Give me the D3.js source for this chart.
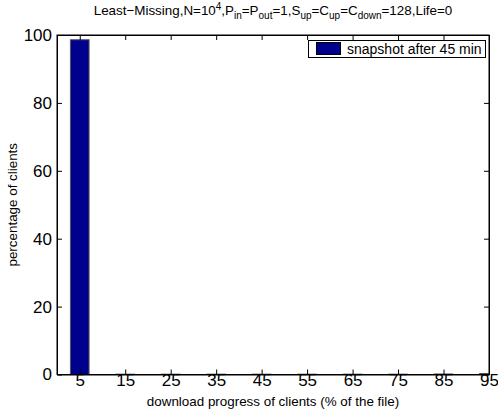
<!DOCTYPE html>
<html>
<head>
<meta charset="utf-8">
<script src="https://cdn.jsdelivr.net/npm/d3@7"></script>
<style>
  html, body { margin: 0; padding: 0; background: #fff; }
  svg { display: block; font-family: "Liberation Sans", Arial, Helvetica, sans-serif; }
</style>
</head>
<body>
<svg id="chart" width="498" height="420"></svg>
<script>
// Download-progress bins (% of the file) and share of clients in each bin
const bins = [5, 15, 25, 35, 45, 55, 65, 75, 85, 95];
const clientShare = [98.6, 0.1, 0.1, 0.1, 0.1, 0.1, 0.1, 0.1, 0.15, 0.3];
const yTicks = [0, 20, 40, 60, 80, 100];
const seriesName = "snapshot after 45 min";

const W = 498, H = 420;
const m = { left: 57, right: 9, top: 35, bottom: 45.5 };
const x0 = m.left, x1 = W - m.right, y0 = m.top, y1 = H - m.bottom;

const svg = d3.select("#chart");

const x = d3.scaleLinear().domain([0, 95]).range([x0, x1]);
const y = d3.scaleLinear().domain([0, 100]).range([y1, y0]);
const barHalf = 2.05;

// Clip bars to the axes box
svg.append("defs").append("clipPath").attr("id", "plotClip")
  .append("rect").attr("x", x0).attr("y", y0).attr("width", x1 - x0).attr("height", y1 - y0);

// Bars
svg.append("g").attr("clip-path", "url(#plotClip)")
  .selectAll("rect").data(bins).join("rect")
  .attr("x", (d) => x(d - barHalf))
  .attr("width", (d) => x(d + barHalf) - x(d - barHalf))
  .attr("y", (d, i) => y(clientShare[i]))
  .attr("height", (d, i) => y(0) - y(clientShare[i]))
  .attr("fill", "#00008f")
  .attr("stroke", "#555")
  .attr("stroke-width", 1);

// Axes (ticks point inward, mirrored on opposite sides)
const tickLen = 5;
const axisFont = 17;

const xBottom = svg.append("g").attr("transform", `translate(0,${y1})`)
  .call(d3.axisBottom(x).tickValues(bins).tickSizeInner(-tickLen).tickSizeOuter(0).tickPadding(4));
const xTop = svg.append("g").attr("transform", `translate(0,${y0})`)
  .call(d3.axisTop(x).tickValues(bins).tickSizeInner(-tickLen).tickSizeOuter(0).tickFormat(""));
const yLeft = svg.append("g").attr("transform", `translate(${x0},0)`)
  .call(d3.axisLeft(y).tickValues(yTicks).tickSizeInner(-tickLen).tickSizeOuter(0).tickPadding(5));
const yRight = svg.append("g").attr("transform", `translate(${x1},0)`)
  .call(d3.axisRight(y).tickValues(yTicks).tickSizeInner(-tickLen).tickSizeOuter(0).tickFormat(""));

[xBottom, xTop, yLeft, yRight].forEach((g) => {
  g.select(".domain").attr("stroke", "#000").attr("stroke-width", 1);
  g.selectAll(".tick line").attr("stroke", "#000");
  g.selectAll("text").attr("font-size", axisFont).attr("fill", "#000")
    .attr("font-family", "Liberation Sans, Arial, sans-serif");
});
xBottom.selectAll(".tick text").attr("dy", "0").attr("y", 11.5);
yLeft.selectAll(".tick text").attr("x", -5);

// Box lines drawn over bars
svg.append("rect").attr("x", x0).attr("y", y0).attr("width", x1 - x0).attr("height", y1 - y0)
  .attr("fill", "none").attr("stroke", "#000").attr("stroke-width", 1);

// Axis labels
svg.append("text").attr("x", (x0 + x1) / 2).attr("y", 406)
  .attr("text-anchor", "middle").attr("font-size", 13.4)
  .text("download progress of clients (% of the file)");

svg.append("text").attr("transform", `translate(17,${(y0 + y1) / 2}) rotate(-90)`)
  .attr("text-anchor", "middle").attr("font-size", 13.4)
  .text("percentage of clients");

// Title with super/subscripts
const title = svg.append("text").attr("x", (x0 + x1) / 2).attr("y", 15)
  .attr("text-anchor", "middle").attr("font-size", 13.4);
const parts = [
  ["Least\u2212Missing,N=10", 0], ["4", -1], [",P", 0], ["in", 1], ["=P", 0], ["out", 1],
  ["=1,S", 0], ["up", 1], ["=C", 0], ["up", 1], ["=C", 0], ["down", 1], ["=128,Life=0", 0]
];
let shift = 0;
parts.forEach(([t, s]) => {
  const target = s === -1 ? -5 : s === 1 ? 4 : 0;
  title.append("tspan")
    .attr("dy", target - shift)
    .attr("font-size", s === 0 ? 13.4 : 10)
    .text(t);
  shift = target;
});

// Legend
const lg = svg.append("g");
lg.append("rect").attr("x", 308.5).attr("y", 40.5).attr("width", 177).attr("height", 17)
  .attr("fill", "#fff").attr("stroke", "#000");
lg.append("rect").attr("x", 316.5).attr("y", 42.5).attr("width", 24).attr("height", 12)
  .attr("fill", "#00008f").attr("stroke", "#000");
lg.append("text").attr("x", 347).attr("y", 54).attr("font-size", 14).text(seriesName);
</script>
</body>
</html>
